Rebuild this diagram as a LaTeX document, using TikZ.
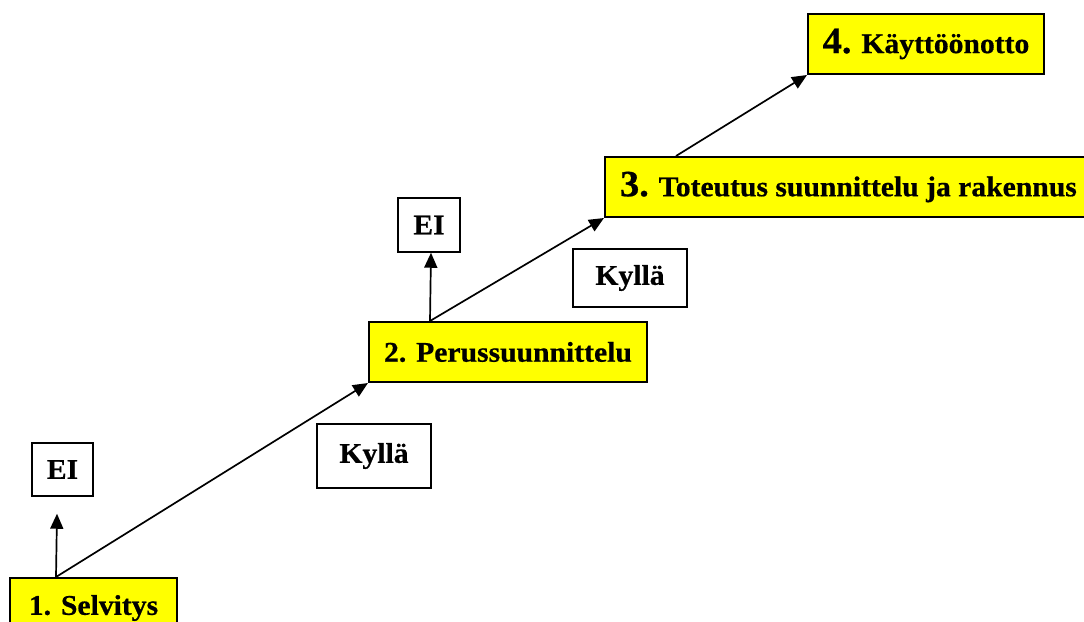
\documentclass[tikz,border=0pt]{standalone}
\usepackage{fontspec}
\setmainfont{Liberation Serif}[FakeStretch=1.04,FakeBold=0.6]
\usetikzlibrary{arrows.meta,calc}
\definecolor{boxyellow}{RGB}{255,255,0}
\begin{document}
\begin{tikzpicture}[x=1pt,y=-1pt,
  txt/.style={font=\fontsize{28.5}{32}\selectfont\bfseries},
  phase/.style={txt,draw=black,line width=2pt,fill=boxyellow,inner sep=0pt,minimum height=60pt},
  answer/.style={txt,draw=black,line width=1.5pt,fill=white,inner sep=0pt},
  conn/.style={line width=1.7pt,-{Triangle[length=15pt,width=13pt]}}]
\useasboundingbox (0,0) rectangle (1084,621);
% phase boxes
\node[phase,minimum width=167pt] (b1) at (93.5,608) {1. Selvitys};
\node[phase,minimum width=278pt] (b2) at (508,352) {2. Perussuunnittelu};
\node[phase,anchor=west,inner xsep=15pt] (b3) at (604,187) {{\fontsize{37}{40}\selectfont 3.} Toteutus suunnittelu ja rakennus};
\node[phase,minimum width=236pt] (b4) at (926,44) {{\fontsize{37}{40}\selectfont 4.} Käyttöönotto};
% answer boxes
\node[answer,minimum width=61pt,minimum height=53pt] (ei1) at (62.5,469.5) {EI};
\node[answer,minimum width=62pt,minimum height=54pt] (ei2) at (429,225) {EI};
\node[answer,minimum width=114pt,minimum height=64pt] (k1) at (374,456) {Kyllä};
\node[answer,minimum width=114pt,minimum height=58pt] (k2) at (630,278) {Kyllä};
% connector ends
\coordinate (s1) at ($(b1.north west)+(47,0)$);
\coordinate (e1) at ($(ei1.south)+(-5.5,17)$);
\coordinate (s2) at ($(b2.north west)+(62,0)$);
\coordinate (e2) at ($(ei2.south)+(2,0)$);
\coordinate (s3) at ($(b3.north west)+(72,0)$);
% connectors
\draw[conn] (s1) -- (e1);
\draw[conn] (s1) -- (b2.south west);
\draw[conn] (s2) -- (e2);
\draw[conn] (s2) -- (b3.south west);
\draw[conn] (s3) -- (b4.south west);
\end{tikzpicture}
\end{document}
